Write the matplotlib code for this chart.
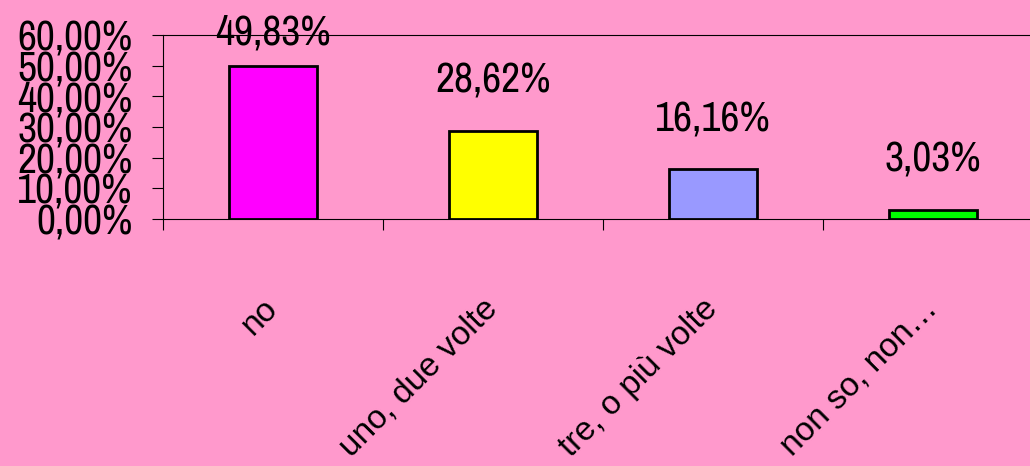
import matplotlib
matplotlib.use("Agg")
import matplotlib.pyplot as plt
from matplotlib import font_manager

# --- dati ---
categorie = ["no", "uno, due volte", "tre, o più volte", "non so, non…"]
valori = [49.83, 28.62, 16.16, 3.03]
colori = ["#FF00FF", "#FFFF00", "#9999FF", "#00FF00"]
tick_y = [0, 10, 20, 30, 40, 50, 60]

# cerca un font stretto (tipo Arial Narrow), altrimenti Liberation Sans più piccolo
font_stretto = None
for f in font_manager.fontManager.ttflist:
    n = f.name.lower()
    if ("narrow" in n or "condensed" in n) and "mono" not in n and "serif" not in n.replace("sans serif", ""):
        if f.style == "normal" and f.weight in (400, "normal", "regular"):
            font_stretto = f.fname
            break
if font_stretto is None:
    for f in font_manager.fontManager.ttflist:
        st = f.stretch if isinstance(f.stretch, int) else 500
        if st < 500 and "mono" not in f.name.lower() and f.style == "normal" and f.weight in (400, "normal"):
            font_stretto = f.fname
            break

if font_stretto:
    fp_num = font_manager.FontProperties(fname=font_stretto, size=30)
else:
    fp_num = font_manager.FontProperties(family="Liberation Sans", size=25)

plt.rcParams["font.family"] = ["Liberation Sans", "DejaVu Sans"]

sfondo = "#FF99CC"
fig = plt.figure(figsize=(10.30, 4.66), dpi=100, facecolor=sfondo)
ax = fig.add_axes([0.1583, 0.530, 0.854, 0.395], facecolor=sfondo)

x = list(range(len(categorie)))
ax.bar(x, valori, width=0.4, color=colori, edgecolor="black", linewidth=2.0, zorder=3)

# etichette dei valori (la prima resta dentro il riquadro come in Excel)
for xi, v in zip(x, valori):
    ax.text(xi, min(v + 10.2, 54.5), f"{v:.2f}%".replace(".", ","),
            ha="center", va="bottom", fontproperties=fp_num, color="black")

ax.set_xlim(-0.5, 3.5)
ax.set_ylim(0, 60)

ax.set_yticks(tick_y)
ax.set_yticklabels([f"{t:.2f}%".replace(".", ",") for t in tick_y], fontproperties=fp_num)
ax.tick_params(axis="y", direction="out", length=8, width=0.8, pad=14)

# tacche sui confini delle categorie, etichette al centro
ax.set_xticks([-0.5, 0.5, 1.5, 2.5])
ax.set_xticklabels([])
ax.tick_params(axis="x", which="major", direction="out", length=8, width=0.8)
ax.set_xticks(x, minor=True)
ax.set_xticklabels(categorie, minor=True, rotation=45, ha="right", va="center",
                   rotation_mode="anchor", fontsize=24)
ax.tick_params(axis="x", which="minor", length=0, pad=61)

for s in ["left", "bottom", "top"]:
    ax.spines[s].set_linewidth(0.8)
    ax.spines[s].set_color("black")
ax.spines["right"].set_visible(False)

fig.savefig("out.png", dpi=100, facecolor=sfondo)
